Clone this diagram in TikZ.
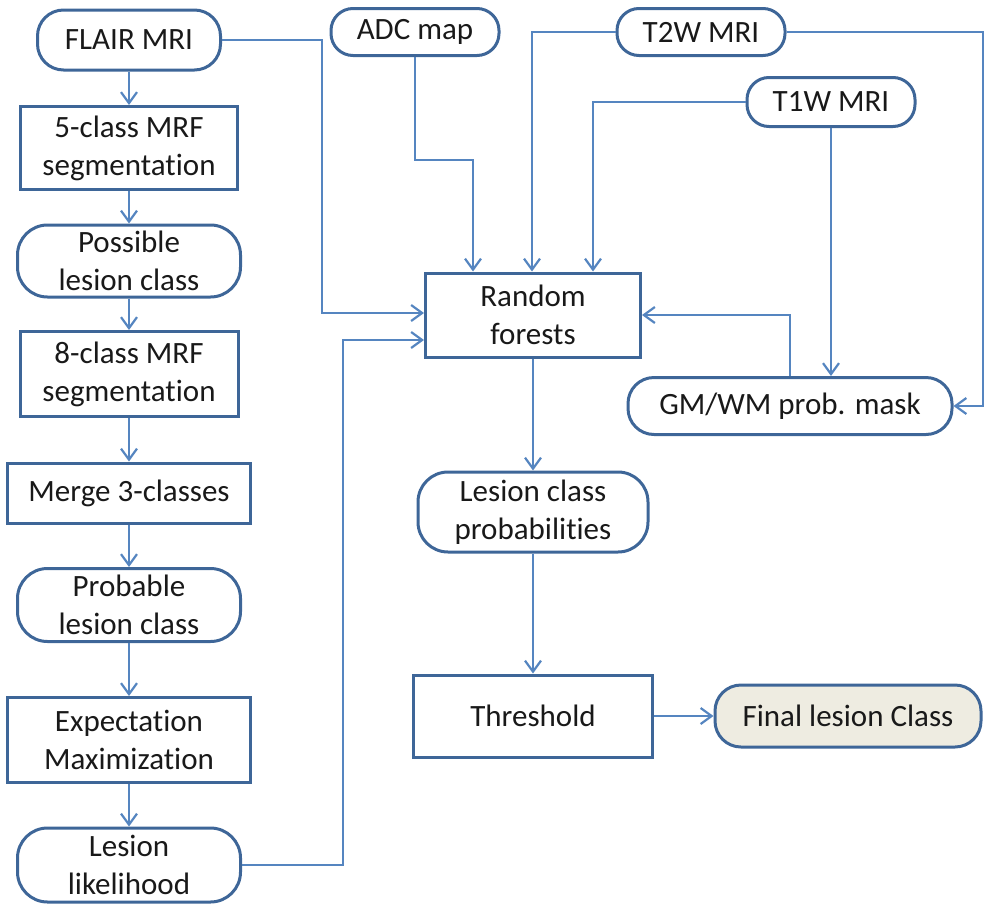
\documentclass[tikz,border=0pt]{standalone}
\usepackage{fontspec}
\setmainfont{Carlito}[RawFeature={-liga;-clig;-calt;-dlig;-hlig}]
\usetikzlibrary{arrows.meta}
\definecolor{boxline}{HTML}{3E6698}
\definecolor{connline}{HTML}{5585C0}
\definecolor{finfill}{HTML}{EEECE1}
\newcommand{\tkI}{t\kern0pt i}
\tikzset{
  base/.style={draw=boxline, line width=1.5pt, inner sep=0pt, align=center,
    font=\fontsize{15.5}{19}\selectfont, text=black!90},
  rect/.style={base, rectangle},
  pill/.style={base, rectangle, rounded corners=15pt},
  conn/.style={draw=connline, line width=1.1pt, -{Straight Barb[length=5.5pt,width=8pt]}},
}
\begin{document}
\begin{tikzpicture}[x=0.5pt, y=-0.5pt]
\useasboundingbox (0,0) rectangle (985,905);
% left column
\node[pill, minimum width=91.5pt, minimum height=30pt, rounded corners=13pt] (flair) at (129,40) {FLAIR MRI};
\node[rect, minimum width=108.5pt, minimum height=41.5pt] (mrf5) at (129,148) {5-class MRF\\segmenta\tkI on};
\node[pill, minimum width=111.5pt, minimum height=36pt] (poss) at (129,261) {Possible\\lesion class};
\node[rect, minimum width=109pt, minimum height=42.5pt] (mrf8) at (129,374) {8-class MRF\\segmenta\tkI on};
\node[rect, minimum width=121.5pt, minimum height=30pt] (merge) at (129,493) {Merge 3-classes};
\node[pill, minimum width=111.5pt, minimum height=36.5pt] (prob) at (129,605) {Probable\\lesion class};
\node[rect, minimum width=121.5pt, minimum height=42.5pt] (em) at (129,740) {Expecta\tkI on\\Maximiza\tkI on};
\node[pill, minimum width=111.5pt, minimum height=37pt] (ll) at (129,865) {Lesion\\likelihood};
% inputs
\node[pill, minimum width=84pt, minimum height=23.5pt, rounded corners=11pt] (adc) at (415,32) {ADC map};
\node[pill, minimum width=84pt, minimum height=23.5pt, rounded corners=11pt] (t2w) at (701,32) {T2W MRI};
\node[pill, minimum width=84pt, minimum height=24.5pt, rounded corners=11pt] (t1w) at (831,102) {T1W MRI};
% centre
\node[rect, minimum width=107.5pt, minimum height=42pt] (rf) at (533,315) {Random\\forests};
\node[pill, minimum width=162pt, minimum height=28.5pt, rounded corners=13pt] (gm) at (790,406) {GM/WM prob. mask};
\node[pill, minimum width=115pt, minimum height=40pt] (lcp) at (533,512) {Lesion class\\probabili\tkI es};
\node[rect, minimum width=119.5pt, minimum height=41pt] (thr) at (533,716) {Threshold};
\node[pill, fill=finfill, minimum width=133pt, minimum height=31pt, rounded corners=13pt] (fin) at (848,716) {Final lesion Class};
% left column connectors
\draw[conn] (flair) -- (mrf5);
\draw[conn] (mrf5) -- (poss);
\draw[conn] (poss) -- (mrf8);
\draw[conn] (mrf8) -- (merge);
\draw[conn] (merge) -- (prob);
\draw[conn] (prob) -- (em);
\draw[conn] (em) -- (ll);
% into random forests
\draw[conn] (flair.east) -| (322,313) -- (rf.west |- 0,313);
\draw[conn] (ll.east) -| (343,340) -- (rf.west |- 0,340);
\draw[conn] (adc.south) |- (473,160) -- (rf.north -| 473,0);
\draw[conn] (t2w.west) -| (rf.north -| 532,0);
\draw[conn] (t1w.west) -| (rf.north -| 593,0);
\draw[conn] (gm.north) |- (rf.east);
% mask inputs
\draw[conn] (t2w.east) -| (983,406) -- (gm.east);
\draw[conn] (t1w.south) -- (t1w.south |- gm.north);
% output chain
\draw[conn] (rf) -- (lcp);
\draw[conn] (lcp) -- (thr);
\draw[conn] (thr) -- (fin);
\end{tikzpicture}
\end{document}
